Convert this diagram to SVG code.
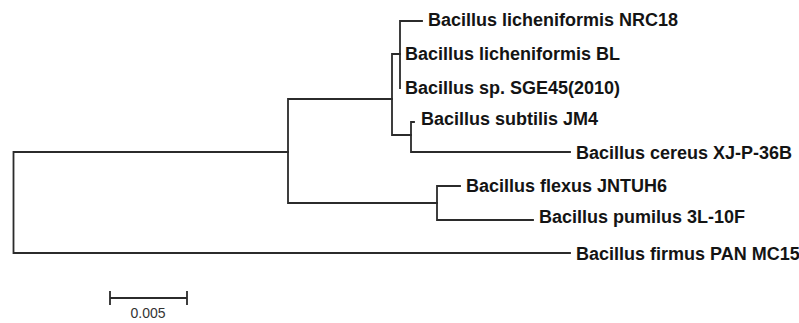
<svg xmlns="http://www.w3.org/2000/svg" width="799" height="323" viewBox="0 0 799 323">
<style>
.br{fill:none;stroke:#2b2b2b;stroke-width:1.8;stroke-linecap:square}
.lb{font-family:"Liberation Sans",Arial,sans-serif;font-weight:bold;font-size:18px;fill:#141414}
.sc{font-family:"Liberation Sans",Arial,sans-serif;font-size:14px;fill:#333}
</style>
<rect width="799" height="323" fill="#fff"/>
<g id="connectors">
<path class="br" d="M13.5,152 V253 M13.5,152 H288 M13.5,253 H570"/>
<path class="br" d="M288,99 V203 M288,99 H392 M288,203 H437"/>
<path class="br" d="M392,54 V135 M392,54 H400 M392,135 H411"/>
<path class="br" d="M400,21 V88 M400,21 H422"/>
<path class="br" d="M411,122 V152 M411,122 H414 M411,152 H570"/>
<path class="br" d="M437,186 V220 M437,186 H460 M437,220 H533"/>
</g>
<g id="n-nrc18"><text class="lb" x="428" y="26">Bacillus licheniformis NRC18</text></g>
<g id="n-bl"><text class="lb" x="405" y="60">Bacillus licheniformis BL</text></g>
<g id="n-sge45"><text class="lb" x="405" y="94">Bacillus sp. SGE45(2010)</text></g>
<g id="n-jm4"><text class="lb" x="421" y="125">Bacillus subtilis JM4</text></g>
<g id="n-cereus"><text class="lb" x="576" y="159">Bacillus cereus XJ-P-36B</text></g>
<g id="n-flexus"><text class="lb" x="466" y="192">Bacillus flexus JNTUH6</text></g>
<g id="n-pumilus"><text class="lb" x="539" y="223">Bacillus pumilus 3L-10F</text></g>
<g id="n-firmus"><text class="lb" x="576" y="260">Bacillus firmus PAN MC15</text></g>
<g id="scale">
<path class="br" d="M110,298 H187 M110,292 V304 M187,292 V304"/>
<text class="sc" x="148" y="318" text-anchor="middle">0.005</text>
</g>
</svg>
